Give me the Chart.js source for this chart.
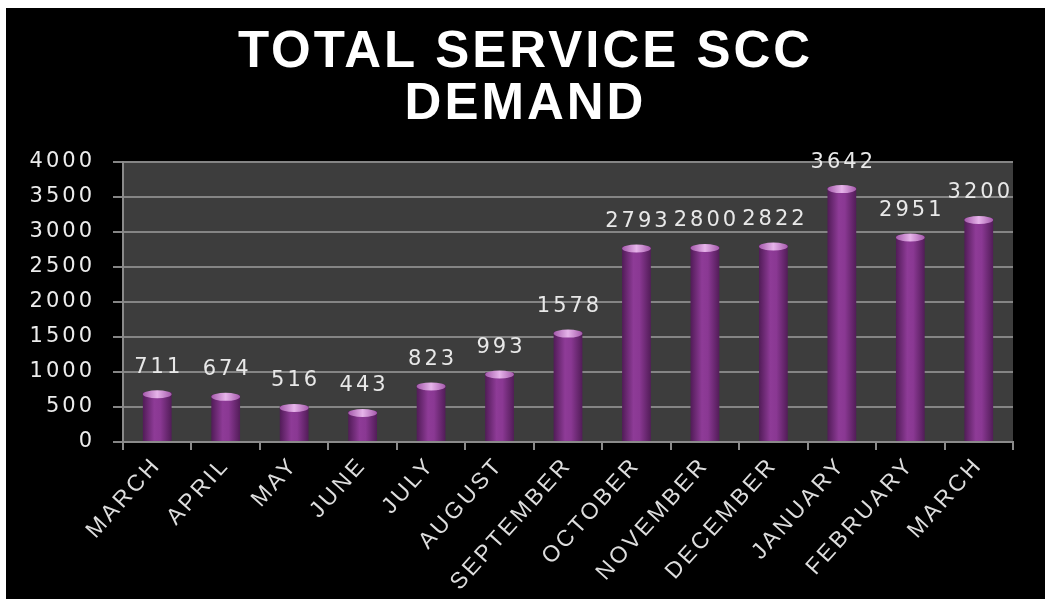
<!DOCTYPE html>
<html>
<head>
<meta charset="utf-8">
<script src="https://cdn.jsdelivr.net/npm/chart.js@4.4.0/dist/chart.umd.min.js"></script>
<style>
  html, body { margin: 0; background: #fff; }
  #wrap { position: absolute; left: 6px; top: 8px; width: 1039px; height: 591px; background: #000; }
</style>
</head>
<body>
<div id="wrap"><canvas id="demand" width="1039" height="591"></canvas></div>
<script>
// chart values
const titleLines = ["TOTAL SERVICE SCC", "DEMAND"];
const months = ["MARCH", "APRIL", "MAY", "JUNE", "JULY", "AUGUST", "SEPTEMBER",
  "OCTOBER", "NOVEMBER", "DECEMBER", "JANUARY", "FEBRUARY", "MARCH"];
const demand = [711, 674, 516, 443, 823, 993, 1578, 2793, 2800, 2822, 3642, 2951, 3200];
const yMin = 0;
const yMax = 4000;
const yStep = 500;

const numFont = "'DejaVu Sans', sans-serif";
const textFont = "'Liberation Sans', Arial, sans-serif";

// black page + dark grey plot area, and the wide letter spacing of the original
const backdrop = {
  id: "backdrop",
  beforeDraw(chart) {
    const { ctx, chartArea: a } = chart;
    ctx.fillStyle = "#000";
    ctx.fillRect(0, 0, chart.width, chart.height);
    ctx.fillStyle = "#3d3d3d";
    ctx.fillRect(a.left, a.top, a.right - a.left, a.bottom - a.top);
    ctx.letterSpacing = "3px";
  },
  afterDraw(chart) {
    chart.ctx.letterSpacing = "0px";
  },
};

// cylinder caps and the value over each bar
const barTops = {
  id: "barTops",
  afterDatasetsDraw(chart) {
    const ctx = chart.ctx;
    const meta = chart.getDatasetMeta(0);
    ctx.save();
    meta.data.forEach((bar, i) => {
      const half = bar.width / 2;
      const cap = ctx.createLinearGradient(bar.x - half, 0, bar.x + half, 0);
      cap.addColorStop(0, "#a55aac");
      cap.addColorStop(0.5, "#e6b4ea");
      cap.addColorStop(1, "#a55aac");
      ctx.fillStyle = cap;
      ctx.beginPath();
      ctx.ellipse(bar.x, bar.y + 2, half, 4, 0, 0, Math.PI * 2);
      ctx.fill();

      ctx.fillStyle = "#e8e8e8";
      ctx.font = "21px " + numFont;
      ctx.textAlign = "center";
      ctx.textBaseline = "middle";
      ctx.fillText(String(demand[i]), bar.x + 1.5, bar.y - 25);
    });
    ctx.restore();
  },
};

new Chart(document.getElementById("demand"), {
  type: "bar",
  plugins: [backdrop, barTops],
  data: {
    labels: months,
    datasets: [{
      data: demand,
      barPercentage: 0.42,
      categoryPercentage: 1,
      borderWidth: 0,
      backgroundColor: (c) => {
        const chart = c.chart;
        if (!chart.chartArea) return "#7a2c82";
        const x = chart.scales.x.getPixelForValue(c.dataIndex);
        const g = chart.ctx.createLinearGradient(x - 15, 0, x + 15, 0);
        g.addColorStop(0, "#4e1a54");
        g.addColorStop(0.4, "#8e3b97");
        g.addColorStop(0.6, "#8a3893");
        g.addColorStop(1, "#4f1b55");
        return g;
      },
    }],
  },
  options: {
    responsive: false,
    animation: false,
    layout: { padding: 0 },
    plugins: {
      legend: { display: false },
      tooltip: { enabled: false },
      title: {
        display: true,
        text: titleLines,
        color: "#ffffff",
        font: { family: textFont, size: 51, weight: "bold", lineHeight: 1.02 },
        padding: { top: 19, bottom: 31 },
      },
    },
    scales: {
      x: {
        afterFit: (s) => { s.height = 157; },
        grid: {
          display: true,
          drawOnChartArea: false,
          color: "#8a8a8a",
          lineWidth: 2,
          tickLength: 8,
        },
        border: { display: true, color: "#8a8a8a", width: 2 },
        ticks: {
          color: "#dddddd",
          font: { family: textFont, size: 23 },
          minRotation: 48,
          maxRotation: 48,
          padding: 2,
          autoSkip: false,
        },
      },
      y: {
        min: yMin,
        max: yMax,
        afterFit: (s) => { s.width = 117; },
        grid: { color: "#858585", lineWidth: 2, tickLength: 10 },
        border: { display: true, color: "#8a8a8a", width: 2 },
        ticks: {
          stepSize: yStep,
          color: "#ececec",
          padding: 18,
          font: { family: numFont, size: 21 },
          callback: (v) => String(v),
        },
      },
      // empty right-hand margin so the title stays centred on the page
      yRight: {
        position: "right",
        afterFit: (s) => { s.width = 32; },
        grid: { display: false },
        border: { display: false },
        ticks: { display: false },
      },
    },
  },
});
</script>
</body>
</html>
